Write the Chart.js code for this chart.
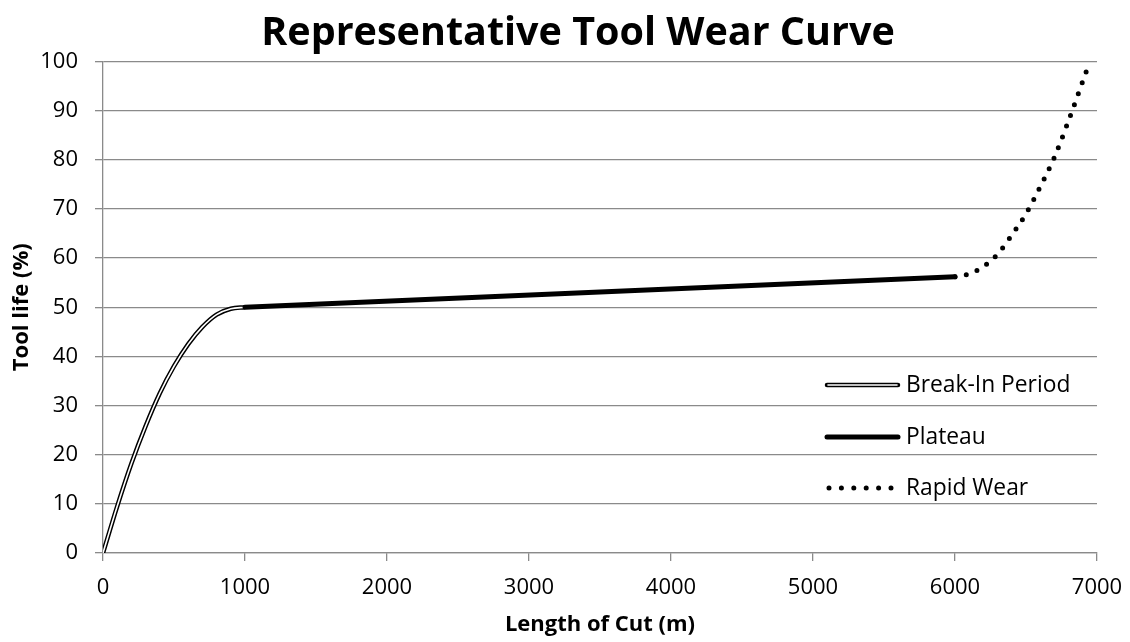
<!DOCTYPE html>
<html>
<head>
<meta charset="utf-8">
<script src="https://cdn.jsdelivr.net/npm/chart.js@4.4.1/dist/chart.umd.min.js"></script>
<style>
  html, body { margin: 0; padding: 0; background: #fff; }
  #wrap { width: 1130px; height: 642px; }
</style>
</head>
<body>
<div id="wrap"><canvas id="chart" width="1130" height="642"></canvas></div>
<script>
// Length of cut (m) and tool life (%) for each wear stage
const breakInX = [0, 100, 200, 300, 400, 500, 600, 700, 800, 900, 1000];
const breakInY = [0, 9.5, 18.2, 25.8, 32.5, 38, 42.5, 46, 48.5, 49.7, 50];

const plateauX = [1000, 6000];
const plateauY = [50, 56.2];

const rapidX = [6000, 6100, 6200, 6300, 6400, 6500, 6600, 6700, 6800, 6900, 6950];
const rapidY = [56.2, 56.8, 58.3, 60.8, 64.7, 69, 74.5, 80.5, 88, 96, 100];

const xTicks = [0, 1000, 2000, 3000, 4000, 5000, 6000, 7000];
const yTicks = [0, 10, 20, 30, 40, 50, 60, 70, 80, 90, 100];

const seriesNames = ['Break-In Period', 'Plateau', 'Rapid Wear'];
const chartTitle = 'Representative Tool Wear Curve';

const FONT = "'Open Sans', 'DejaVu Sans', sans-serif";
const GRID = '#8a8a8a';

function toPoints(xs, ys) {
  return xs.map((x, i) => ({ x: x, y: ys[i] }));
}

// Chart title, centred a little right of the canvas middle
const wearTitle = {
  id: 'wearTitle',
  afterDraw(chart) {
    const ctx = chart.ctx;
    ctx.save();
    ctx.font = "bold 39.5px " + FONT;
    ctx.fillStyle = '#000';
    ctx.textAlign = 'center';
    ctx.textBaseline = 'alphabetic';
    ctx.fillText(chartTitle, 578, 45);
    ctx.restore();
  }
};

// Legend drawn on the canvas so the double-line sample can be shown
const wearLegend = {
  id: 'wearLegend',
  afterDatasetsDraw(chart) {
    const ctx = chart.ctx;
    const x0 = 827, x1 = 898, tx = 906;
    const rows = [385, 437, 488];
    ctx.save();
    ctx.font = "22.8px " + FONT;
    ctx.fillStyle = '#000';
    ctx.textBaseline = 'middle';
    ctx.textAlign = 'left';
    rows.forEach((y, i) => {
      ctx.save();
      ctx.lineCap = 'round';
      if (i === 0) {
        ctx.strokeStyle = '#000'; ctx.lineWidth = 4.5;
        ctx.beginPath(); ctx.moveTo(x0, y); ctx.lineTo(x1, y); ctx.stroke();
        ctx.strokeStyle = '#fff'; ctx.lineWidth = 1.6;
        ctx.beginPath(); ctx.moveTo(x0 + 1, y); ctx.lineTo(x1 - 1, y); ctx.stroke();
      } else if (i === 1) {
        ctx.strokeStyle = '#000'; ctx.lineWidth = 5;
        ctx.beginPath(); ctx.moveTo(x0, y); ctx.lineTo(x1, y); ctx.stroke();
      } else {
        ctx.strokeStyle = '#000'; ctx.lineWidth = 5;
        ctx.setLineDash([0, 12.4]);
        ctx.beginPath(); ctx.moveTo(x0 + 2, y); ctx.lineTo(x1, y); ctx.stroke();
      }
      ctx.restore();
      ctx.fillText(seriesNames[i], tx, y + 1);
    });
    ctx.restore();
  }
};

new Chart(document.getElementById('chart'), {
  type: 'scatter',
  data: {
    datasets: [
      {
        label: seriesNames[0],
        data: toPoints(breakInX, breakInY),
        showLine: true,
        borderColor: '#000',
        borderWidth: 4.5,
        pointRadius: 0,
        cubicInterpolationMode: 'monotone',
        order: 4
      },
      {
        label: '',
        data: toPoints(breakInX, breakInY),
        showLine: true,
        borderColor: '#fff',
        borderWidth: 1.6,
        pointRadius: 0,
        cubicInterpolationMode: 'monotone',
        order: 3
      },
      {
        label: seriesNames[2],
        data: toPoints(rapidX, rapidY),
        showLine: true,
        borderColor: '#000',
        borderWidth: 5,
        borderCapStyle: 'round',
        borderDash: [0, 11.5],
        pointRadius: 0,
        cubicInterpolationMode: 'monotone',
        order: 2
      },
      {
        label: seriesNames[1],
        data: toPoints(plateauX, plateauY),
        showLine: true,
        borderColor: '#000',
        borderWidth: 5,
        borderCapStyle: 'round',
        pointRadius: 0,
        order: 1
      }
    ]
  },
  options: {
    responsive: false,
    animation: false,
    layout: { padding: { left: 0, right: 33, top: 61.5, bottom: 0 } },
    plugins: {
      legend: { display: false },
      tooltip: { enabled: false },
      title: { display: false }
    },
    scales: {
      x: {
        type: 'linear',
        min: xTicks[0],
        max: xTicks[xTicks.length - 1],
        afterBuildTicks(scale) { scale.ticks = xTicks.map(v => ({ value: v })); },
        afterFit(scale) {
          scale.height = 89;
          scale.paddingLeft = 0;
          scale.paddingRight = 0;
        },
        ticks: {
          color: '#000',
          font: { family: FONT, size: 22 },
          padding: 14,
          maxRotation: 0,
          callback: (v) => String(v)
        },
        grid: { drawOnChartArea: false, drawTicks: true, tickLength: 8, color: GRID, lineWidth: 1.3 },
        border: { color: GRID, width: 1.3 },
        title: {
          display: true,
          text: 'Length of Cut (m)',
          color: '#000',
          font: { family: FONT, size: 22, weight: 'bold' },
          padding: { top: 0, bottom: 4 }
        }
      },
      y: {
        type: 'linear',
        min: yTicks[0],
        max: yTicks[yTicks.length - 1],
        afterBuildTicks(scale) { scale.ticks = yTicks.map(v => ({ value: v })); },
        afterFit(scale) {
          scale.width = 103;
          scale.paddingTop = 0;
          scale.paddingBottom = 0;
        },
        ticks: { color: '#000', font: { family: FONT, size: 22 }, padding: 17 },
        grid: { drawTicks: true, tickLength: 8, color: GRID, lineWidth: 1.3 },
        border: { color: GRID, width: 1.3 },
        title: {
          display: true,
          text: 'Tool life (%)',
          color: '#000',
          font: { family: FONT, size: 22, weight: 'bold' },
          padding: { top: 9, bottom: 0 }
        }
      }
    }
  },
  plugins: [wearLegend, wearTitle]
});
</script>
</body>
</html>
